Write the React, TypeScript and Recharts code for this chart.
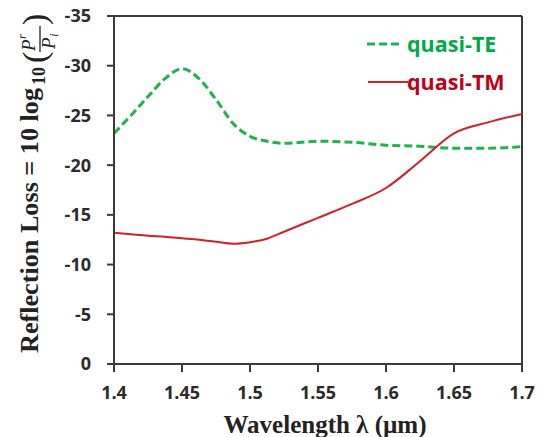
import React from 'react';
import { LineChart, Line, XAxis, YAxis, ReferenceLine } from 'recharts';

const wavelength = [1.4, 1.4125, 1.425, 1.4375, 1.45, 1.4625, 1.475, 1.4875, 1.5, 1.5125, 1.525, 1.55, 1.575, 1.6, 1.625, 1.65, 1.675, 1.7];
const quasiTE = [-23.2, -25.0, -26.9, -28.7, -29.7, -28.7, -26.6, -24.2, -22.9, -22.4, -22.2, -22.4, -22.3, -22.0, -21.9, -21.7, -21.7, -21.85];
const quasiTM = [-13.2, -13.05, -12.9, -12.8, -12.65, -12.5, -12.3, -12.1, -12.25, -12.6, -13.3, -14.7, -16.1, -17.7, -20.4, -23.2, -24.3, -25.15];
const xTicks = [1.4, 1.45, 1.5, 1.55, 1.6, 1.65, 1.7];
const yTicks = [-35, -30, -25, -20, -15, -10, -5, 0];

const data = wavelength.map((x, i) => ({ x, te: quasiTE[i], tm: quasiTM[i] }));

const AXIS = '#3a3a3a';
const GREEN = '#1fb24e';
const RED = '#d0202a';
const tickFont = { fontFamily: '"Open Sans", sans-serif', fontWeight: 700, fontSize: 18, fill: '#2b2b2b' };

const YTitle = () => (
  <g transform="translate(0,353) rotate(-90)" fontFamily='"Liberation Serif", serif' fontWeight={700} fill="#222">
    <text x={0} y={38} fontSize={26} textLength={265} lengthAdjust="spacingAndGlyphs">Reflection Loss = 10 log</text>
    <text x={268} y={45} fontSize={18}>10</text>
    <text x={290} y={46} fontSize={34} fontWeight={400}>(</text>
    <text x={302} y={35} fontSize={19} fontStyle="italic" fontWeight={400}>P</text>
    <text x={314} y={26} fontSize={13} fontStyle="italic" fontWeight={400}>r</text>
    <line x1={301} x2={327} y1={40} y2={40} stroke="#222" strokeWidth={1.3} />
    <text x={304} y={55} fontSize={19} fontStyle="italic" fontWeight={400}>P</text>
    <text x={316} y={58} fontSize={13} fontStyle="italic" fontWeight={400}>i</text>
    <text x={328} y={46} fontSize={34} fontWeight={400}>)</text>
  </g>
);

const XTitle = () => (
  <text x={325} y={433} textAnchor="middle" fontFamily='"Liberation Serif", serif' fontWeight={700} fontSize={25} fill="#222">
    Wavelength λ (µm)
  </text>
);

const LegendBox = () => (
  <g fontFamily='"Open Sans", sans-serif' fontWeight={700} fontSize={21.5}>
    <line x1={367} x2={402} y1={44} y2={44} stroke={GREEN} strokeWidth={3} strokeDasharray="8 4" />
    <text x={407} y={52} fill="#00a94a">quasi-TE</text>
    <line x1={368} x2={408} y1={82} y2={82} stroke={RED} strokeWidth={2} />
    <text x={407} y={90} fill="#c0001a">quasi-TM</text>
  </g>
);

export default function App() {
  return (
    <div style={{ position: 'absolute', left: 0, top: 0, width: 542, height: 437, background: '#fff' }}>
      <LineChart width={542} height={437} data={data} margin={{ top: 16, right: 20, left: 0, bottom: 0 }}>
        <XAxis
          dataKey="x"
          type="number"
          domain={[1.4, 1.7]}
          ticks={xTicks}
          tickFormatter={(v: number) => String(v)}
          height={73}
          tickSize={8}
          tickMargin={14}
          axisLine={{ stroke: AXIS, strokeWidth: 2 }}
          tickLine={{ stroke: AXIS, strokeWidth: 2 }}
          tick={tickFont}
          allowDataOverflow
        />
        <YAxis
          type="number"
          domain={[-35, 0]}
          reversed
          ticks={yTicks}
          width={114}
          tickSize={7}
          tickMargin={16}
          axisLine={{ stroke: AXIS, strokeWidth: 2 }}
          tickLine={{ stroke: AXIS, strokeWidth: 2 }}
          tick={tickFont}
          allowDataOverflow
        />
        <ReferenceLine y={-35} stroke={AXIS} strokeWidth={2} />
        <ReferenceLine x={1.7} stroke={AXIS} strokeWidth={2} />
        <Line type="monotone" dataKey="te" stroke={GREEN} strokeWidth={3} strokeDasharray="8 4" dot={false} isAnimationActive={false} />
        <Line type="monotone" dataKey="tm" stroke={RED} strokeWidth={2} dot={false} isAnimationActive={false} />
        <YTitle />
        <XTitle />
        <LegendBox />
      </LineChart>
    </div>
  );
}
